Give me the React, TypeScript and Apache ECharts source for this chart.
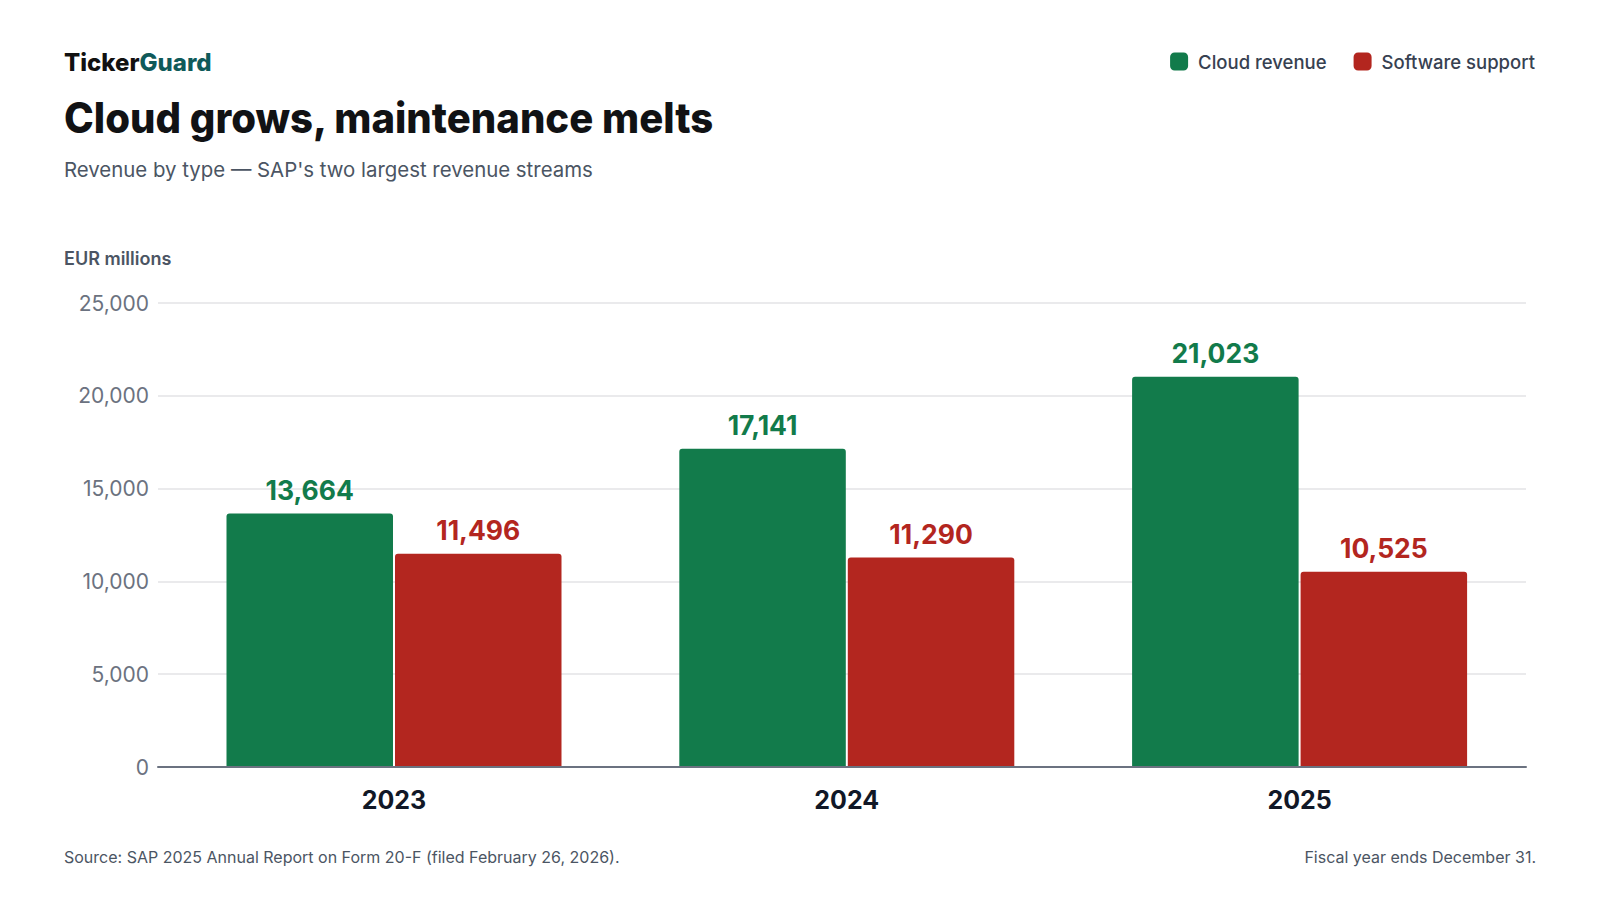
import React, { useEffect, useRef } from "react";
import * as echarts from "echarts";

const categories = ["2023", "2024", "2025"];
const cloudRevenue = [13664, 17141, 21023];
const softwareSupport = [11496, 11290, 10525];
const yTicks = [0, 5000, 10000, 15000, 20000, 25000];

const GREEN = "#127b4b";
const RED = "#b3261f";
const FONT = "Inter, 'Noto Sans', sans-serif";

const fmt = (v: number) => v.toLocaleString("en-US");

export default function App() {
  const ref = useRef<HTMLDivElement>(null);
  useEffect(() => {
    if (!ref.current) return;
    const chart = echarts.init(ref.current, undefined, { renderer: "svg" });
    const yMin = yTicks[0];
    const yMax = yTicks[yTicks.length - 1];
    const yInterval = yTicks[1] - yTicks[0];
    const labelStyle = (color: string) => ({
      show: true,
      position: "top" as const,
      distance: 10,
      formatter: (p: any) => fmt(p.value),
      color,
      fontFamily: FONT,
      fontSize: 26.5,
      lineHeight: 27,
      fontWeight: 700,
    });
    chart.setOption({
      animation: false,
      backgroundColor: "#ffffff",
      textStyle: { fontFamily: FONT },
      legend: {
        right: 65,
        top: 52,
        padding: 0,
        itemWidth: 18,
        itemHeight: 18,
        itemGap: 27,
        icon: "roundRect",
        data: ["Cloud revenue", "Software support"],
        textStyle: {
          fontFamily: FONT,
          fontSize: 18.5,
          fontWeight: 500,
          color: "#374151",
          padding: [0, 0, 0, 5],
        },
      },
      grid: [
        { left: 158, right: 74, top: 303, bottom: 133 },
        { left: 167.6, right: 74, top: 303, bottom: 133 },
      ],
      xAxis: [
        {
          type: "category",
          gridIndex: 0,
          data: categories,
          axisLine: { show: true, lineStyle: { color: "#6b7280", width: 2 } },
          axisTick: { show: false },
          axisLabel: { show: false },
          splitLine: { show: false },
          z: 5,
        },
        {
          type: "category",
          gridIndex: 1,
          data: categories,
          axisLine: { show: false },
          axisTick: { show: false },
          axisLabel: {
            show: true,
            margin: 20,
            color: "#111827",
            fontFamily: FONT,
            fontSize: 25,
            fontWeight: 700,
          },
        },
      ],
      yAxis: [
        {
          type: "value",
          gridIndex: 0,
          min: yMin,
          max: yMax,
          interval: yInterval,
          axisLine: { show: false },
          axisTick: { show: false },
          axisLabel: {
            margin: 9,
            color: "#6b7280",
            fontFamily: FONT,
            fontSize: 21,
            formatter: (v: number) => fmt(v),
          },
          splitLine: { show: true, lineStyle: { color: "#e3e3e6", width: 1.5 } },
        },
        {
          type: "value",
          gridIndex: 1,
          min: yMin,
          max: yMax,
          interval: yInterval,
          show: false,
          splitLine: { show: false },
        },
      ],
      series: [
        {
          name: "Cloud revenue",
          type: "bar",
          xAxisIndex: 1,
          yAxisIndex: 1,
          data: cloudRevenue,
          barWidth: 166.5,
          barGap: "1.2%",
          itemStyle: { color: GREEN, borderRadius: [3, 3, 0, 0] },
          label: labelStyle(GREEN),
        },
        {
          name: "Software support",
          type: "bar",
          xAxisIndex: 1,
          yAxisIndex: 1,
          data: softwareSupport,
          barWidth: 166.5,
          barGap: "1.2%",
          itemStyle: { color: RED, borderRadius: [3, 3, 0, 0] },
          label: labelStyle(RED),
        },
      ],
      graphic: [
        {
          type: "text",
          x: 64,
          y: 62,
          style: {
            text: "{a|Ticker}{b|Guard}",
            verticalAlign: "middle",
            rich: {
              a: { fontFamily: FONT, fontSize: 24, fontWeight: 800, fill: "#111111", color: "#111111" },
              b: { fontFamily: FONT, fontSize: 24, fontWeight: 800, fill: "#0f5a5a", color: "#0f5a5a" },
            },
          },
        },
        {
          type: "text",
          x: 64,
          y: 118,
          scaleX: 0.955,
          style: {
            text: "Cloud grows, maintenance melts",
            fontFamily: FONT,
            fontSize: 42,
            fontWeight: 800,
            fill: "#111214",
            verticalAlign: "middle",
          },
        },
        {
          type: "text",
          x: 64,
          y: 169,
          style: {
            text: "Revenue by type \u2014 SAP's two largest revenue streams",
            fontFamily: FONT,
            fontSize: 20.4,
            fill: "#4b5563",
            verticalAlign: "middle",
          },
        },
        {
          type: "text",
          x: 64,
          y: 258,
          style: {
            text: "EUR millions",
            fontFamily: FONT,
            fontSize: 18,
            fontWeight: 600,
            fill: "#4b5563",
            verticalAlign: "middle",
          },
        },
        {
          type: "text",
          x: 64,
          y: 857,
          style: {
            text: "Source: SAP 2025 Annual Report on Form 20-F (filed February 26, 2026).",
            fontFamily: FONT,
            fontSize: 16,
            fill: "#4b5563",
            verticalAlign: "middle",
          },
        },
        {
          type: "text",
          x: 1536,
          y: 857,
          style: {
            text: "Fiscal year ends December 31.",
            fontFamily: FONT,
            fontSize: 16,
            fill: "#4b5563",
            align: "right",
            verticalAlign: "middle",
          },
        },
      ],
    });
    return () => chart.dispose();
  }, []);
  return (
    <div
      ref={ref}
      style={{ position: "fixed", left: 0, top: 0, width: "100vw", height: "100vh", background: "#fff" }}
    />
  );
}
